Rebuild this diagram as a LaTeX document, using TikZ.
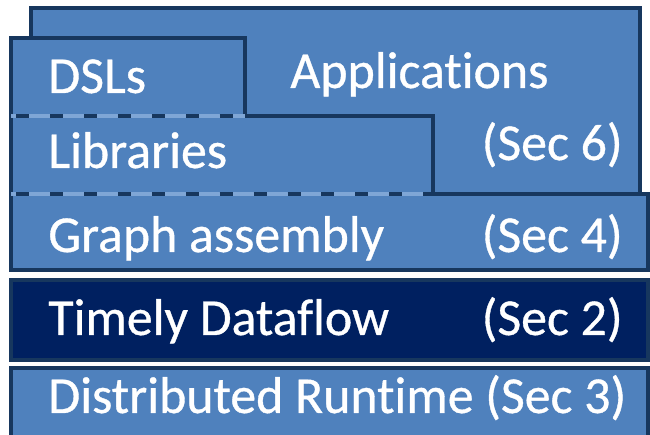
\documentclass[tikz,border=0pt]{standalone}
\usepackage{fontspec}
\setmainfont{Carlito}[Ligatures=NoCommon, FakeBold=0.7]

\definecolor{layerblue}{HTML}{4F81BD}
\definecolor{layeredge}{HTML}{17375E}
\definecolor{layernavy}{HTML}{002060}
\definecolor{dashgap}{HTML}{7FA6D6}

\tikzset{
	layer/.style={fill=layerblue, draw=layeredge, line width=2pt},
	edgeline/.style={draw=layeredge, line width=2pt},
	gapline/.style={draw=dashgap, line width=2pt},
	dashline/.style={draw=layeredge, line width=2pt, dash pattern=on 7.4pt off 11.9pt, dash phase=-3pt},
	layertext/.style={text=white, font=\fontsize{29.5}{33}\selectfont, inner sep=0pt, anchor=base west},
	sectext/.style={layertext, anchor=base east}
}

\begin{document}
\begin{tikzpicture}[x=0.02cm, y=-0.02cm]

	\clip (0,0) rectangle (650,435);

	% lower layers
	\filldraw[layer] (11,194) rectangle (648,270);
	\filldraw[layer, fill=layernavy] (11,280) rectangle (648,360);
	\filldraw[layer] (11,368) rectangle (648,450);

	% applications, with DSLs and libraries in front
	\filldraw[layer] (31,8) rectangle (640,194);
	\fill[layerblue] (11,38) rectangle (245,116);
	\fill[layerblue] (11,116) rectangle (433,194);
	\draw[edgeline] (11,194) -- (11,38) -- (245,38) -- (245,116) -- (433,116) -- (433,194);

	% soft borders
	\draw[gapline] (11,116) -- (245,116);
	\draw[dashline] (11,116) -- (245,116);
	\draw[gapline] (11,194) -- (433,194);
	\draw[dashline] (11,194) -- (433,194);

	\node[layertext] (dsl)       at (48,93)   {DSLs};
	\node[layertext] (apps)      at (290,88)  {Applications};
	\node[sectext]   (appssec)   at (623,160) {(Sec 6)};
	\node[layertext] (lib)       at (48,168)  {Libraries};
	\node[layertext] (graph)     at (48,252)  {Graph assembly};
	\node[sectext]   (graphsec)  at (623,252) {(Sec 4)};
	\node[layertext] (timely)    at (48,335)  {Timely Dataflow};
	\node[sectext]   (timelysec) at (623,335) {(Sec 2)};
	\node[layertext] (runtime)   at (48,413)  {Distributed Runtime (Sec 3)};

\end{tikzpicture}
\end{document}
